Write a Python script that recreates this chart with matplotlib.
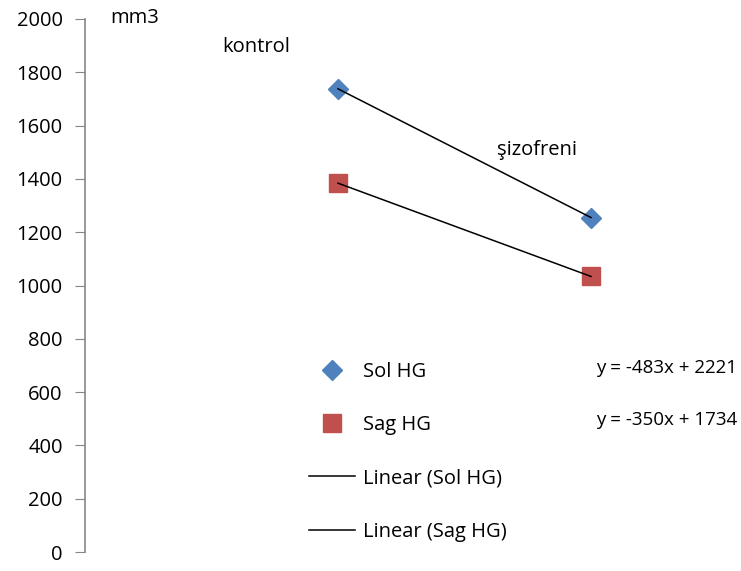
import matplotlib.pyplot as plt
import numpy as np
from matplotlib.lines import Line2D

plt.rcParams['font.family'] = ['Open Sans', 'DejaVu Sans']

groups = [1, 2]                  # kontrol, şizofreni
group_labels = ['kontrol', 'şizofreni']
sol_hg = [1738, 1255]
sag_hg = [1384, 1034]
yticks = np.arange(0, 2001, 200)

FS = 14.5

fig = plt.figure(figsize=(7.41, 5.71), dpi=100)
ax = fig.add_axes([85/741, 1 - 552/571, 1 - 85/741, 533/571])

x = np.array(groups)
# linear trendlines, drawn over the markers
fit_sol = np.polyfit(x, sol_hg, 1)
fit_sag = np.polyfit(x, sag_hg, 1)
ax.plot(x, np.polyval(fit_sol, x), color='black', lw=1.1, zorder=4)
ax.plot(x, np.polyval(fit_sag, x), color='black', lw=1.1, zorder=4)

ax.plot(x, sol_hg, 'D', color='#4F81BD', ms=10.5, ls='none', zorder=3)
ax.plot(x, sag_hg, 's', color='#C0504D', ms=13.5, ls='none', zorder=3)

ax.set_xlim(0, 656/253)
ax.set_ylim(0, 2000)
ax.set_yticks(yticks)
ax.set_xticks([])
for s in ['top', 'right', 'bottom']:
    ax.spines[s].set_visible(False)
ax.spines['left'].set_color('#868686')
ax.spines['left'].set_linewidth(1.2)
ax.tick_params(axis='y', direction='out', length=7, color='#868686',
               labelsize=FS, pad=9)

ax.text(110/741, 1 - 18/571, 'mm3', transform=fig.transFigure,
        fontsize=FS, va='center')
ax.text(222/741, 1 - 47/571, group_labels[0], transform=fig.transFigure,
        fontsize=FS, va='center')
ax.text(497/741, 1 - 150/571, group_labels[1], transform=fig.transFigure,
        fontsize=FS, va='center')

handles = [
    Line2D([], [], marker='D', color='#4F81BD', ms=10.5, ls='none'),
    Line2D([], [], marker='s', color='#C0504D', ms=13.5, ls='none'),
    Line2D([], [], color='black', lw=1.1),
    Line2D([], [], color='black', lw=1.1),
]
labels = ['Sol HG', 'Sag HG', 'Linear (Sol HG)', 'Linear (Sag HG)']
ax.legend(handles, labels, loc='upper left', frameon=False,
          bbox_to_anchor=(309/741, 1 - 362/571), bbox_transform=fig.transFigure,
          fontsize=FS, labelspacing=1.65, handlelength=2.3, handletextpad=0.4,
          borderaxespad=0, borderpad=0)

eq_sol = f'y = {fit_sol[0]:.0f}x + {fit_sol[1]:.0f}'
eq_sag = f'y = {fit_sag[0]:.0f}x + {fit_sag[1]:.0f}'
ax.text(737/741, 1 - 368/571, eq_sol, transform=fig.transFigure,
        fontsize=13.5, va='center', ha='right')
ax.text(737/741, 1 - 420/571, eq_sag, transform=fig.transFigure,
        fontsize=13.5, va='center', ha='right')

fig.savefig('out.png', dpi=100)
